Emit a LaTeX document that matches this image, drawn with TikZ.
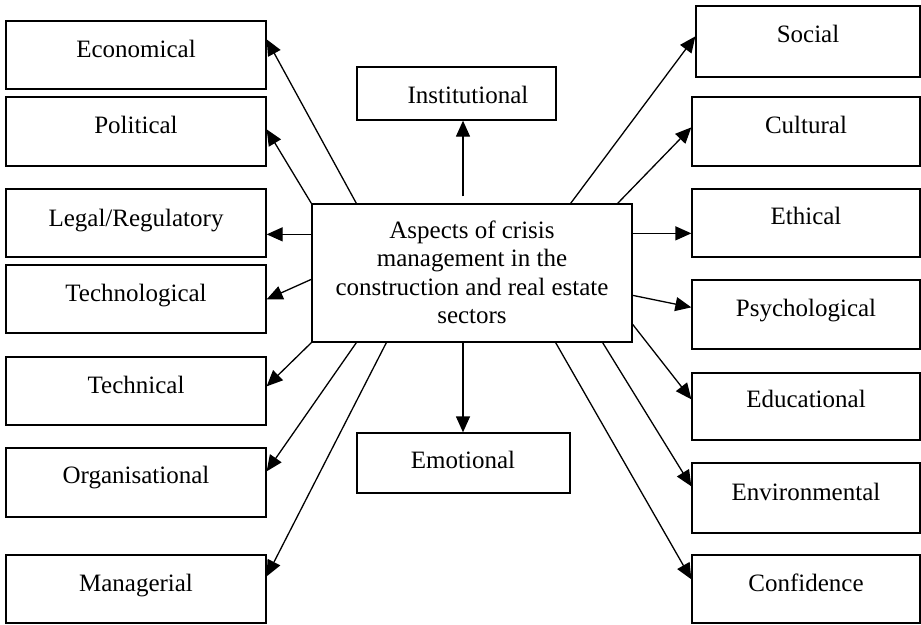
\documentclass[tikz,border=0pt]{standalone}
\usepackage{fontspec}
\setmainfont{Liberation Serif}
\usetikzlibrary{arrows.meta}
\begin{document}
\begin{tikzpicture}[x=1pt,y=-1pt,
  box/.style={draw, line width=1.3pt, inner sep=0pt, minimum width=#1},
  box/.default=260,
  lbl/.style={inner sep=0pt, anchor=base, font=\fontsize{25}{28.5}\selectfont},
  conn/.style={line width=1.3pt, -{Triangle[length=16pt,width=14pt]}}]
\useasboundingbox (0,0) rectangle (921,624);
% center
\node[box=320, minimum height=138] (c) at (472,273) {};
\node[lbl, align=center] (ct) at (472,323.5) {Aspects of crisis\\management in the\\construction and real estate\\sectors};
% left column
\node[box, minimum height=68] (eco) at (136,55) {};
\node[lbl] (ecot) at (136,57) {Economical};
\node[box, minimum height=69] (pol) at (136,131.5) {};
\node[lbl] (polt) at (136,133) {Political};
\node[box, minimum height=68] (leg) at (136,223) {};
\node[lbl] (legt) at (136,226) {Legal/Regulatory};
\node[box, minimum height=68] (tcg) at (136,299) {};
\node[lbl] (tcgt) at (136,301) {Technological};
\node[box, minimum height=68] (tec) at (136,391) {};
\node[lbl] (tect) at (136,393) {Technical};
\node[box, minimum height=69] (org) at (136,482.5) {};
\node[lbl] (orgt) at (136,483) {Organisational};
\node[box, minimum height=68] (man) at (136,589) {};
\node[lbl] (mant) at (136,591) {Managerial};
% right column
\node[box=224, minimum height=71] (soc) at (808,41.5) {};
\node[lbl] (soct) at (808,42) {Social};
\node[box=228, minimum height=69] (cul) at (806,131.5) {};
\node[lbl] (cult) at (806,133) {Cultural};
\node[box=228, minimum height=68] (eth) at (806,223) {};
\node[lbl] (etht) at (806,224) {Ethical};
\node[box=228, minimum height=69] (psy) at (806,314.5) {};
\node[lbl] (psyt) at (806,316) {Psychological};
\node[box=228, minimum height=67] (edu) at (806,406.5) {};
\node[lbl] (edut) at (806,407) {Educational};
\node[box=228, minimum height=70] (env) at (806,498) {};
\node[lbl] (envt) at (806,500) {Environmental};
\node[box=228, minimum height=68] (con) at (806,589) {};
\node[lbl] (cont) at (806,591) {Confidence};
% top and bottom
\node[box=199, minimum height=53] (ins) at (456.5,93.5) {};
\node[lbl] (inst) at (468,103) {Institutional};
\node[box=213, minimum height=60] (emo) at (463.5,463) {};
\node[lbl] (emot) at (463,468) {Emotional};
% connectors
\draw[conn] ([xshift=45pt]c.north west) -- ([yshift=-19pt]eco.north east);
\draw[conn] (c.north west) -- ([yshift=-33pt]pol.north east);
\draw[conn] ([yshift=-31pt]c.north west) -- ([yshift=-46pt]leg.north east);
\draw[conn] ([yshift=-76pt]c.north west) -- ([yshift=-35pt]tcg.north east);
\draw[conn] (c.south west) -- ([yshift=-30pt]tec.north east);
\draw[conn] ([xshift=45pt]c.south west) -- ([yshift=-24pt]org.north east);
\draw[conn] ([xshift=75pt]c.south west) -- ([yshift=-22pt]man.north east);
\draw[conn] ([xshift=-62pt]c.north east) -- ([yshift=-31pt]soc.north west);
\draw[conn] ([xshift=-15pt]c.north east) -- ([yshift=-31pt]cul.north west);
\draw[conn] ([yshift=-30pt]c.north east) -- ([yshift=-45pt]eth.north west);
\draw[conn] ([yshift=-92pt]c.north east) -- ([yshift=-28pt]psy.north west);
\draw[conn] ([yshift=-121pt]c.north east) -- ([yshift=-27pt]edu.north west);
\draw[conn] ([xshift=-30pt]c.south east) -- ([yshift=-24pt]env.north west);
\draw[conn] ([xshift=-77pt]c.south east) -- ([yshift=-25pt]con.north west);
\draw[conn] ([xshift=-9pt,yshift=7pt]c.north) -- ([xshift=6.5pt]ins.south);
\draw[conn] ([xshift=-9pt]c.south) -- ([xshift=-0.5pt]emo.north);
\end{tikzpicture}
\end{document}
